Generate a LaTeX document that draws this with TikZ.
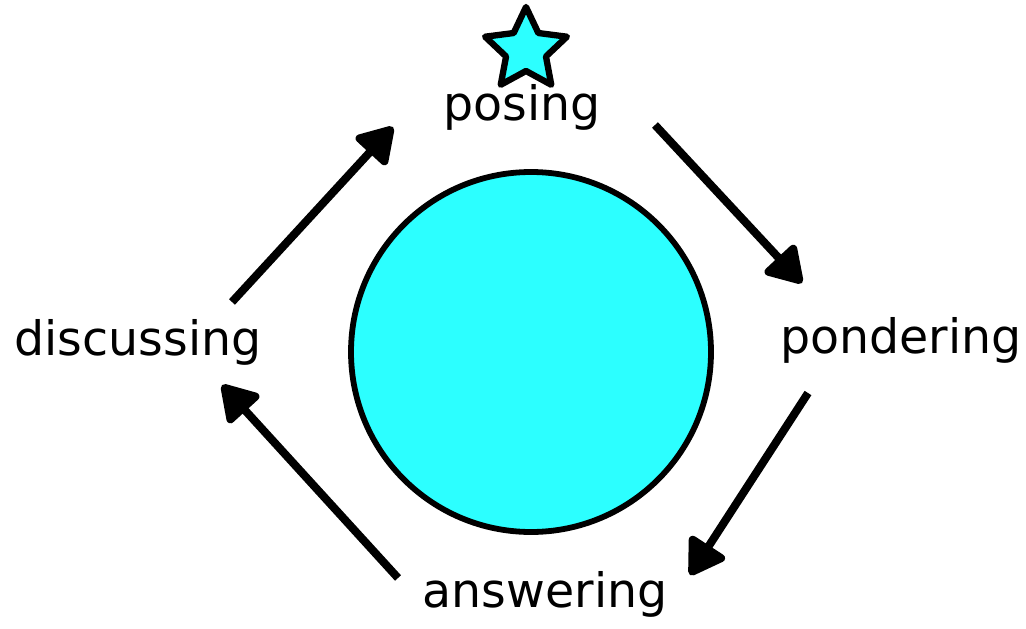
\documentclass[tikz,border=0pt]{standalone}
\usepackage{fontspec}
\setmainfont{DejaVu Sans}
\usepackage{xcolor}
\definecolor{cycleCyan}{HTML}{2CFFFF}
\usepackage{tikz}
\usetikzlibrary{arrows.meta,shapes.geometric}
\tikzset{
  stagelabel/.style={
    font=\fontsize{27}{32}\selectfont,
    inner sep=0pt,
    anchor=base
  },
  hubcircle/.style={
    draw=black,
    fill=cycleCyan,
    line width=3.3pt
  },
  topstar/.style={
    star,
    star points=5,
    star point ratio=2.05,
    draw=black,
    fill=cycleCyan,
    line width=3.6pt,
    line join=round,
    minimum size=86*0.02cm,
    inner sep=0pt
  },
  cycleline/.style={
    draw=black,
    line width=4.6pt,
    -{Triangle[round,length=0.78cm,width=0.92cm]}
  }
}

\begin{document}
\begin{tikzpicture}[x=0.02cm,y=-0.02cm]
  \useasboundingbox (0,0) rectangle (1026,628);
  \draw[hubcircle] (531,352) circle (180);
  \node[topstar] (star) at (526,50) {};
  \node[stagelabel] (posing) at (522,121) {posing};
  \node[stagelabel] (pondering) at (901,353) {pondering};
  \node[stagelabel] (answering) at (545,607) {answering};
  \node[stagelabel] (discussing) at (138,355) {discussing};
  \coordinate (ds) at (232,302); \coordinate (de) at (393,127);
  \coordinate (ps) at (655,125); \coordinate (pe) at (802,283);
  \coordinate (os) at (808,393); \coordinate (oe) at (690,575);
  \coordinate (as) at (398,578); \coordinate (ae) at (222,385);
  \foreach \from/\to in {ds/de,ps/pe,os/oe,as/ae}{\draw[cycleline] (\from) -- (\to);}
\end{tikzpicture}
\end{document}
